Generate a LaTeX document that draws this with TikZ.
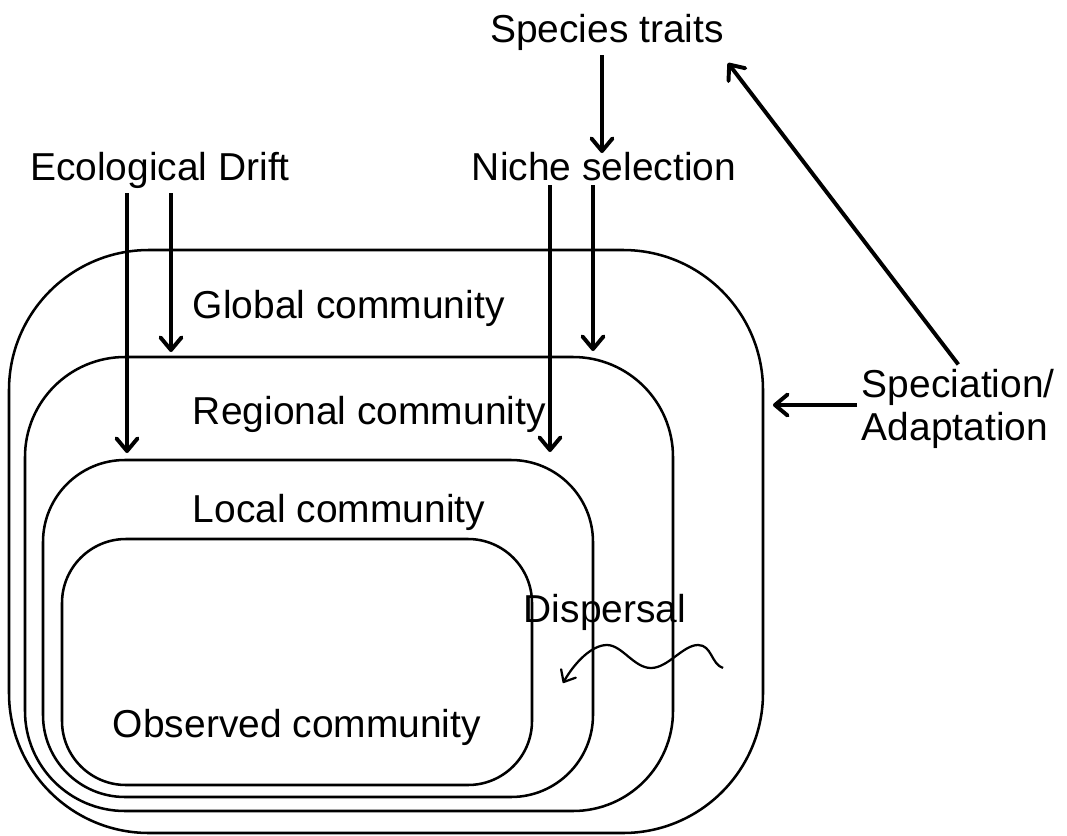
\documentclass[tikz,border=0pt]{standalone}
\usepackage{fontspec}
\setmainfont{Liberation Sans}
\usetikzlibrary{arrows.meta}

\tikzset{
	box/.style={draw, line width=1.8pt},
	push/.style={line width=2.8pt,
		-{Straight Barb[length=9pt,width=15pt,line cap=round,line join=round]}},
	wave/.style={line width=1.6pt,
		-{Straight Barb[length=7pt,width=12pt,line cap=round,line join=round]}},
	lbl/.style={font=\fontsize{27.7}{30.5}\selectfont, anchor=base},
}

\begin{document}
\begin{tikzpicture}[x=0.25mm, y=-0.25mm]

% frame %{{{2

	\useasboundingbox (0,0) rectangle (1067,836);

% coordinates %{{{2

	\coordinate (S) at (602,153);
	\coordinate (R1) at (171,352);
	\coordinate (L1) at (127,453);
	\coordinate (R2) at (593,351);
	\coordinate (L2) at (550,452);
	\coordinate (B) at (773,405);
	\coordinate (T) at (728,63);
	\coordinate (W) at (723,668);

% nested communities %{{{2

	\draw[box, rounded corners=35mm] (9,250) rectangle (763,833);
	\draw[box, rounded corners=25mm] (25,357) rectangle (673,811);
	\draw[box, rounded corners=20.5mm] (43,460) rectangle (593,797);
	\draw[box, rounded corners=16mm] (62,539) rectangle (532,785);

% labels %{{{2

	\node[lbl] (traits) at (607,42) {Species traits};
	\node[lbl] (drift) at (160,180) {Ecological Drift};
	\node[lbl] (niche) at (604,180) {Niche selection};

	\node[lbl, anchor=base west] (global) at (188,318) {Global community};
	\node[lbl, anchor=base west] (regional) at (188,424) {Regional community};
	\node[lbl, anchor=base west] (local) at (188,522) {Local community};
	\node[lbl, anchor=base west] (observed) at (108,737) {Observed community};

	\node[lbl] (dispersal) at (605,622) {Dispersal};
	\node[lbl, anchor=west, align=left] (speciation) at (857,409)
	{Speciation/\\Adaptation};

% arrows %{{{2

	\draw[push] (traits.south -| S) -- (S);

	\draw[push] (drift.south -| R1) -- (R1);
	\draw[push] (drift.south -| L1) -- (L1);

	\draw[push] (niche.south -| R2) -- (R2);
	\draw[push] (niche.south -| L2) -- (L2);

	\draw[push] (speciation.west |- B) -- (B);
	\draw[push] (speciation.north) -- (T);

% dispersal wave %{{{2

	\draw[wave] (W) .. controls (711,664) and (712,645) .. (698,645)
		.. controls (683,645) and (668,668) .. (651,668)
		.. controls (634,668) and (622,645) .. (607,645)
		.. controls (592,645) and (575,662) .. (563,683);

\end{tikzpicture}
\end{document}
